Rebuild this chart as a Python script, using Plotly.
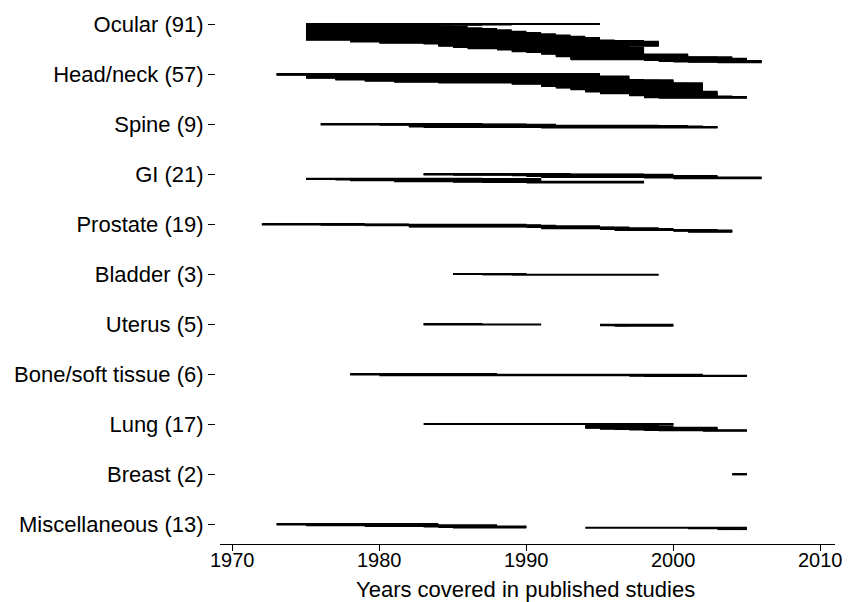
import plotly.graph_objects as go

categories = ["Ocular", "Head/neck", "Spine", "GI", "Prostate", "Bladder", "Uterus",
              "Bone/soft tissue", "Lung", "Breast", "Miscellaneous"]
counts = [91, 57, 9, 21, 19, 3, 5, 6, 17, 2, 13]
x_title = "Years covered in published studies"
x_ticks = [1970, 1980, 1990, 2000, 2010]

ocular_start = [1975]*38 + [1978]*4 + [1980]*3 + [1983]*2 + [1984]*5 + [1985]*3 + [1986]*3 + [1988]*3 \
    + [1989]*4 + [1990]*2 + [1991]*4 + [1992]*6 + [1993]*7 + [1998]*2 + [1999]*2 + [2000, 2001, 2003]
ocular_end = [1995, 1989, 1987, 1982, 1984, 1983, 1985, 1986, 1982, 1984,
              1987, 1985, 1988, 1986, 1983, 1989, 1987, 1985, 1990, 1988,
              1986, 1991, 1989, 1987, 1992, 1990, 1988, 1993, 1991, 1989,
              1994, 1992, 1990, 1995, 1993, 1991, 1995, 1994,
              1995, 1996, 1998, 1998,
              1999, 1999, 1998,
              1999, 1999,
              1999, 1998, 1999, 1999, 1999,
              1996, 1996, 1997,
              1996, 1998, 1997,
              1998, 1997, 1998,
              1997, 1998, 1997, 1998,
              1998, 1997,
              1998, 1997, 1998, 1998,
              1998, 2001, 2000, 2001, 2001, 2000,
              2001, 2004, 2003, 2004, 2004, 2005, 2005,
              2005, 2004,
              2005, 2006,
              2006, 2006, 2006]

head_start = [1973]*3 + [1975]*7 + [1977]*4 + [1979]*3 + [1981]*2 + [1984]*2 + [1989]*3 + [1991]*5 \
    + [1992]*4 + [1993]*4 + [1994]*5 + [1995]*4 + [1997]*5 + [1998]*5 + [1999]
head_end = [1995, 1993, 1994, 1995, 1992, 1993,
            1997, 1996, 1997, 1995,
            1997, 1996, 1997, 1997,
            1998, 2000, 1999,
            2000, 1999, 2000, 2000, 2000,
            2002, 2001, 2002, 2002, 2000, 2002, 2001, 2002, 2002, 2001,
            2002, 2001, 2002, 2002, 2000, 2002, 2001, 2002, 2002, 2001,
            2003, 2002, 2003, 2003, 2002, 2003, 2001, 2003, 2003, 2002, 2003,
            2004, 2005, 2005, 2005]

spine_start = [1976, 1976, 1980, 1982, 1982, 1982, 1982, 1983, 1991]
spine_end = [1987, 1990, 1992, 1992, 1999, 2001, 2002, 2003, 2003]

gi_start = [1983, 1983, 1985, 1989, 1990, 1990, 1991, 1991, 1998, 2000, 2000,
            1975, 1975, 1977, 1978, 1978, 1981, 1981, 1985, 1987, 1990]
gi_end = [1993, 1998, 2000, 1998, 2000, 2003, 2000, 2003, 2006, 2003, 2006,
          1987, 1991, 1987, 1990, 1991, 1985, 1991, 1998, 1991, 1998]

prostate_start = [1972, 1972, 1976, 1979, 1982, 1982, 1982, 1990, 1991, 1991, 1991, 1995, 1995, 1996, 1996,
                  2000, 2000, 2001, 2001]
prostate_end = [1979, 1982, 1990, 1991, 1992, 1995, 1991, 1995, 1997, 1996, 1999, 1997, 2000, 2000, 2003,
                2004, 2003, 2004, 2004]

bladder_start = [1985, 1987, 1989]
bladder_end = [1990, 1989, 1999]

uterus_start = [1983, 1983, 1995, 1995, 1996]
uterus_end = [1987, 1991, 2000, 1997, 2000]

bone_start = [1978, 1978, 1980, 1980, 1997, 1998]
bone_end = [1988, 1985, 2002, 1999, 2005, 2005]

lung_start = [1983, 1994, 1994, 1994, 1994, 1994, 1994, 1994, 1994, 1994, 1995, 1995, 1996, 1997, 1998, 1999, 2002]
lung_end = [2000, 2000, 1998, 1998, 1999, 1998, 2000, 1999, 1998, 2003, 1999, 2003, 2003, 2003, 2003, 2005, 2005]

breast_start = [2004, 2004]
breast_end = [2005, 2005]

misc_start = [1973, 1973, 1975, 1975, 1979, 1979, 1983, 1984, 1985, 1994, 2001, 2003, 2003]
misc_end = [1984, 1983, 1984, 1988, 1984, 1988, 1990, 1988, 1990, 2005, 2003, 2004, 2005]

starts = [ocular_start, head_start, spine_start, gi_start, prostate_start, bladder_start,
          uterus_start, bone_start, lung_start, breast_start, misc_start]
ends = [ocular_end, head_end, spine_end, gi_end, prostate_end, bladder_end,
        uterus_end, bone_end, lung_end, breast_end, misc_end]

labels = [f"{c} ({n})" for c, n in zip(categories, counts)]
step = 0.0085

xs, ys = [], []
for i, (s_list, e_list) in enumerate(zip(starts, ends)):
    for k, (s, e) in enumerate(zip(s_list, e_list)):
        y = i + k * step
        xs += [s, e, None]
        ys += [y, y, None]

fig = go.Figure()
fig.add_trace(go.Scatter(x=xs, y=ys, mode="lines",
                         line=dict(color="black", width=2),
                         hoverinfo="skip", showlegend=False))

# page body has an 8px margin, so the figure is 8px smaller than the window
W, H = 856, 594
ml, mr, mt, mb = 207, 29, 1, 58
plot_h = H - mt - mb

font = "Liberation Sans, Arial, sans-serif"
annotations = []
for v in x_ticks:
    annotations.append(dict(text=str(v), xref="x", yref="paper", x=v, y=-16 / plot_h,
                            xanchor="center", yanchor="middle", showarrow=False,
                            font=dict(size=20)))
annotations.append(dict(text=x_title, xref="paper", yref="paper", x=0.5, y=-(mb + 2) / plot_h,
                        xanchor="center", yanchor="bottom", showarrow=False,
                        font=dict(size=22)))

fig.update_layout(
    width=W, height=H,
    margin=dict(l=ml, r=mr, t=mt, b=mb),
    paper_bgcolor="white", plot_bgcolor="white",
    font=dict(family=font, size=22, color="black"),
    xaxis=dict(range=[1969.15, 2010.99], tickvals=x_ticks, domain=[5 / (W - ml - mr), 1],
               showgrid=False, zeroline=False, showline=True, linecolor="black", linewidth=1,
               ticks="outside", ticklen=6, tickcolor="black", showticklabels=False),
    yaxis=dict(range=[10.4, -0.3], tickvals=list(range(len(categories))), ticktext=labels,
               anchor="free", position=0,
               showgrid=False, zeroline=False, showline=False,
               ticks="outside", ticklen=7, tickcolor="black",
               tickfont=dict(size=22)),
    annotations=annotations,
)
fig.write_html("out.html")
